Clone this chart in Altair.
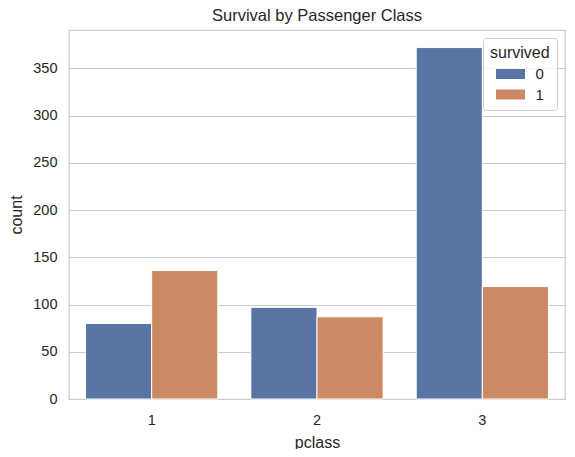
import altair as alt
import pandas as pd

pclass = ["1", "1", "2", "2", "3", "3"]
survived = ["0", "1", "0", "1", "0", "1"]
counts = [80, 136, 97, 87, 372, 119]
y_ticks = [0, 50, 100, 150, 200, 250, 300, 350]
colors = ["#5975a4", "#cc8963"]

df = pd.DataFrame({"pclass": pclass, "survived": survived, "count": counts})

txt = "#262626"
chart = (
    alt.Chart(df)
    .mark_bar(stroke="white", strokeWidth=1)
    .encode(
        x=alt.X(
            "pclass:N",
            title="pclass",
            scale=alt.Scale(paddingInner=0.2, paddingOuter=0.1),
            axis=alt.Axis(labelAngle=0, ticks=False, labelPadding=14, titlePadding=8, domain=False, grid=False),
        ),
        xOffset=alt.XOffset("survived:N", scale=alt.Scale(paddingInner=0, paddingOuter=0)),
        y=alt.Y(
            "count:Q",
            title="count",
            scale=alt.Scale(domain=[0, 390.6], nice=False),
            axis=alt.Axis(values=y_ticks, ticks=False, labelPadding=12, titlePadding=8, domain=False, grid=True),
        ),
        color=alt.Color(
            "survived:N",
            title="survived",
            scale=alt.Scale(domain=["0", "1"], range=colors),
            legend=alt.Legend(
                orient="none",
                legendX=414,
                legendY=8,
                padding=7,
                strokeColor="#cccccc",
                fillColor="rgba(255,255,255,0.8)",
                cornerRadius=3,
                symbolType="M-1.45,-0.5H1.45V0.5H-1.45Z",
                symbolSize=400,
                symbolStrokeWidth=0,
                symbolOffset=10.5,
                labelOffset=15,
                titleFontSize=16,
                titleFontWeight="normal",
                titleColor=txt,
                labelFontSize=15,
                labelColor=txt,
                titlePadding=3,
                rowPadding=2.5,
            ),
        ),
    )
    .properties(
        width=496,
        height=369,
        title=alt.TitleParams("Survival by Passenger Class", fontSize=16.5, fontWeight="normal", color=txt, offset=6),
        autosize=alt.AutoSizeParams(type="none"),
        padding={"left": 61, "top": 22, "right": 2, "bottom": 50},
    )
    .configure(font="Liberation Sans")
    .configure_view(stroke="#cccccc", strokeWidth=1.25)
    .configure_axis(
        labelFontSize=14.5,
        labelColor=txt,
        titleFontSize=16,
        titleFontWeight="normal",
        titleColor=txt,
        gridColor="#cccccc",
        gridWidth=1,
    )
)

chart.save("out.html", embed_options={"renderer": "svg", "actions": False})
